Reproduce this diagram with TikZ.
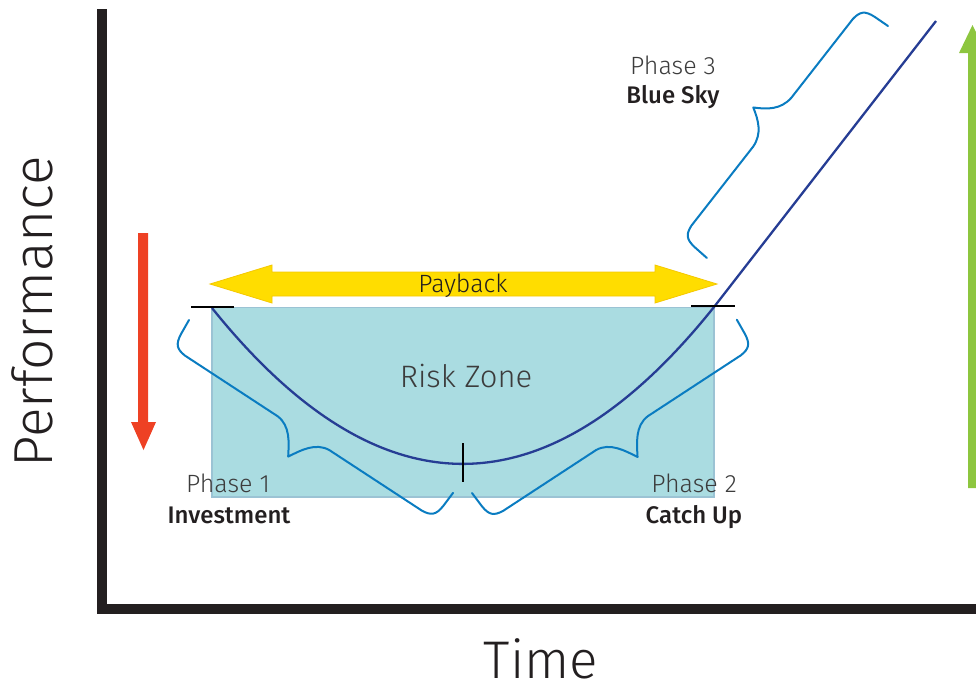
\documentclass[tikz,border=0pt]{standalone}
\usepackage{fontspec}
\setmainfont{Fira Sans Light}[BoldFont={Fira Sans Medium}]
\usetikzlibrary{calc}
\definecolor{axisblack}{RGB}{35,31,32}
\definecolor{txtgray}{RGB}{60,60,60}
\definecolor{riskfill}{RGB}{170,220,225}
\definecolor{riskedge}{RGB}{155,195,212}
\definecolor{curveblue}{RGB}{38,61,148}
\definecolor{braceblue}{RGB}{10,124,193}
\definecolor{payyellow}{RGB}{255,221,0}
\definecolor{payedge}{RGB}{245,200,0}
\definecolor{downred}{RGB}{238,65,36}
\definecolor{upgreen}{RGB}{141,198,63}
\tikzset{
  axisline/.style={line width=10pt, draw=axisblack, line join=miter},
  riskbox/.style={draw=riskedge, line width=1.5pt, fill=riskfill, minimum width=502pt, minimum height=189.5pt, inner sep=0pt},
  perfcurve/.style={draw=curveblue, line width=2.3pt},
  tickmark/.style={draw=black, line width=2.5pt},
  brc/.style={draw=braceblue, line width=2pt, line cap=round, line join=round},
  lbl/.style={inner sep=0pt, anchor=base, text=txtgray, font=\fontsize{25}{30}\selectfont},
  blbl/.style={inner sep=0pt, anchor=base, text=axisblack, font=\fontsize{24}{29}\selectfont\bfseries},
  bigl/.style={inner sep=0pt, anchor=base, text=axisblack, font=\fontsize{55}{60}\selectfont},
}
\newcommand{\phbrace}[4]{%
  \draw[brc, shift={(#1)}, rotate=#2]
    (0,0) -- (1,16) .. controls (2,28) and (6,31) .. (16,32)
    -- ({#3/2-31},32) .. controls ({#3/2-15},33) and ({#3/2-7},{#4-12}) .. ({#3/2},#4)
    .. controls ({#3/2+7},{#4-12}) and ({#3/2+15},33) .. ({#3/2+31},32)
    -- ({#3-16},32) .. controls ({#3-6},31) and ({#3-2},28) .. ({#3-1},16) -- (#3,0);}
\begin{document}
\begin{tikzpicture}[x=1pt,y=-1pt]
\useasboundingbox (0,0) rectangle (976,686);
\clip (0,0) rectangle (976,686);

% risk zone
\node[riskbox] (riskzone) at (463,402.25) {};
\node[inner sep=0pt, anchor=base, text=txtgray, font=\fontsize{31}{36}\selectfont] (risklbl) at (466,387) {Risk Zone};

% axes
\coordinate (ytop) at (102.3,9.3);
\coordinate (orig) at (102.3,609);
\coordinate (xend) at (985,609);
\draw[axisline] (ytop) -- (orig) -- (xend);

% payback arrow
\coordinate (payL) at (210,284);
\coordinate (payR) at (717,284);
\fill[payyellow, draw=payedge, line width=0.8pt]
  (payL) -- (272,265) -- (272,272) -- (655,272) -- (655,265) -- (payR)
  -- (655,303) -- (655,296) -- (272,296) -- (272,303) -- cycle;
\node[inner sep=0pt, anchor=base, text=axisblack, font=\fontsize{25}{30}\selectfont] (paylbl) at (463,292) {Payback};

% red down arrow
\coordinate (redtop) at (143,233);
\coordinate (redtip) at (143.5,450);
\fill[downred] (138,233) -- (148,233) -- (148,422) -- (156,422) -- (redtip) -- (131,422) -- (138,422) -- cycle;

% green up arrow
\coordinate (grtip) at (972.5,25);
\fill[upgreen] (968,488) -- (977,488) -- (977,53) -- (986,53) -- (grtip) -- (959,53) -- (968,53) -- cycle;

% performance curve
\coordinate (c1) at (212,308);
\coordinate (c2) at (714,307);
\coordinate (c3) at (936,21);
\draw[perfcurve] (c1) .. controls (379,516) and (547,516) .. (c2) -- (c3);

% ticks
\draw[tickmark] (191,307) -- (234,307);
\draw[tickmark] (691,306) -- (735,306);
\draw[tickmark] (463,443) -- (463,482);

% braces
\coordinate (b1) at (189,320);
\coordinate (b2) at (472,493);
\coordinate (b3) at (888,26);
\phbrace{b1}{-33.2}{315.6}{60}
\phbrace{b2}{33.2}{316.5}{60.5}
\phbrace{b3}{-128}{294.3}{56}

% labels
\node[lbl] (ph1) at (228,492) {Phase 1};
\node[blbl] (inv) at (229,523) {Investment};
\node[lbl] (ph2) at (694,492) {Phase 2};
\node[blbl] (cat) at (694,523) {Catch Up};
\node[lbl] (ph3) at (673,74) {Phase 3};
\node[blbl] (sky) at (673,103) {Blue Sky};

% axis titles
\node[bigl, rotate=90] (perf) at (52,311.5) {Performance};
\node[bigl, text depth=0pt, font=\fontsize{53}{58}\selectfont] (time) at (541,678) {Time};
\end{tikzpicture}
\end{document}
